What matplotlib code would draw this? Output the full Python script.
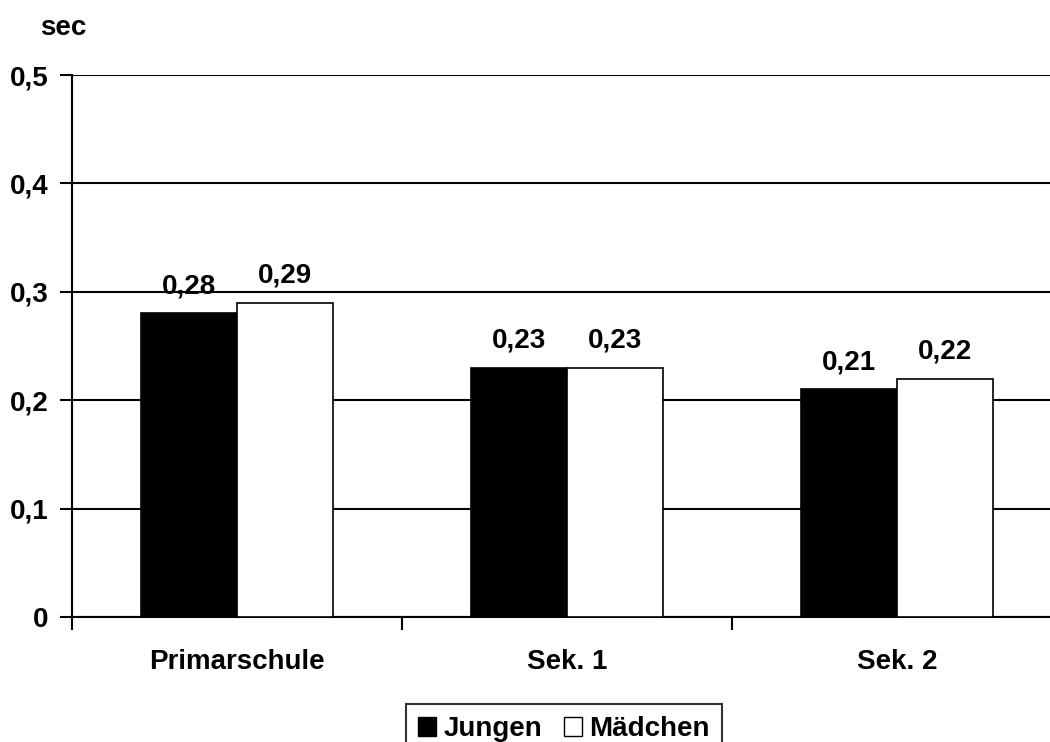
import matplotlib.pyplot as plt
import matplotlib as mpl
import numpy as np
from matplotlib.patches import Patch

categories = ["Primarschule", "Sek. 1", "Sek. 2"]
jungen = [0.28, 0.23, 0.21]
maedchen = [0.29, 0.23, 0.22]
series_names = ["Jungen", "Mädchen"]
y_ticks = [0, 0.1, 0.2, 0.3, 0.4, 0.5]


def fmt(v):
    # German decimal comma
    return "0" if v == 0 else f"{v:.1f}".replace(".", ",")


mpl.rcParams['font.family'] = ['Liberation Sans', 'DejaVu Sans']
mpl.rcParams['font.weight'] = 'bold'
FS = 20

fig = plt.figure(figsize=(10.5, 7.42), dpi=100, facecolor='white')
ax = fig.add_axes([72 / 1050, 125 / 742, 990 / 1050, 542 / 742])

x = np.arange(len(categories))
w = 0.29
bars_j = ax.bar(x - w / 2, jungen, w, color='black', edgecolor='black', linewidth=1.2, zorder=3)
bars_m = ax.bar(x + w / 2, maedchen, w, color='white', edgecolor='black', linewidth=1.2, zorder=3)

for bars, vals in [(bars_j, jungen), (bars_m, maedchen)]:
    for b, v in zip(bars, vals):
        ax.annotate(f"{v:.2f}".replace(".", ","), (b.get_x() + b.get_width() / 2, v),
                    xytext=(0, 10), textcoords='offset points', ha='center', va='bottom',
                    fontsize=FS, fontweight='bold')

ax.set_xlim(-0.5, len(categories) - 0.5)
ax.set_ylim(0, 0.5)
ax.set_yticks(y_ticks)
ax.set_yticklabels([fmt(t) for t in y_ticks], fontsize=FS, fontweight='bold')
ax.yaxis.grid(True, color='black', linewidth=1.5, zorder=0)
ax.set_axisbelow(True)

# category labels at centres, tick marks at boundaries
ax.set_xticks(x)
ax.set_xticklabels(categories, fontsize=FS, fontweight='bold')
ax.tick_params(axis='x', length=0, pad=23)
ax.set_xticks(np.arange(len(categories) + 1) - 0.5, minor=True)
ax.tick_params(axis='x', which='minor', length=9, width=1.5, direction='out')
ax.tick_params(axis='y', length=9, width=1.5, direction='out', pad=8)

for side in ['top', 'right']:
    ax.spines[side].set_visible(False)
ax.spines['left'].set_linewidth(1.5)
ax.spines['bottom'].set_linewidth(1.5)

fig.text(40 / 1050, 1 - 28 / 742, "sec", fontsize=FS, fontweight='bold', va='center', ha='left')

handles = [Patch(facecolor='black', edgecolor='black'),
           Patch(facecolor='white', edgecolor='black')]
leg = fig.legend(handles, series_names, loc='upper center', bbox_to_anchor=(564 / 1050, 1 - 704 / 742),
                 ncol=2, fontsize=FS, frameon=True, fancybox=False, edgecolor='black',
                 handlelength=0.65, handleheight=0.65, handletextpad=0.25, columnspacing=0.8,
                 borderpad=0.45, borderaxespad=0)
leg.get_frame().set_linewidth(1.5)
for t in leg.get_texts():
    t.set_fontweight('bold')

fig.savefig("out.png", dpi=100)
